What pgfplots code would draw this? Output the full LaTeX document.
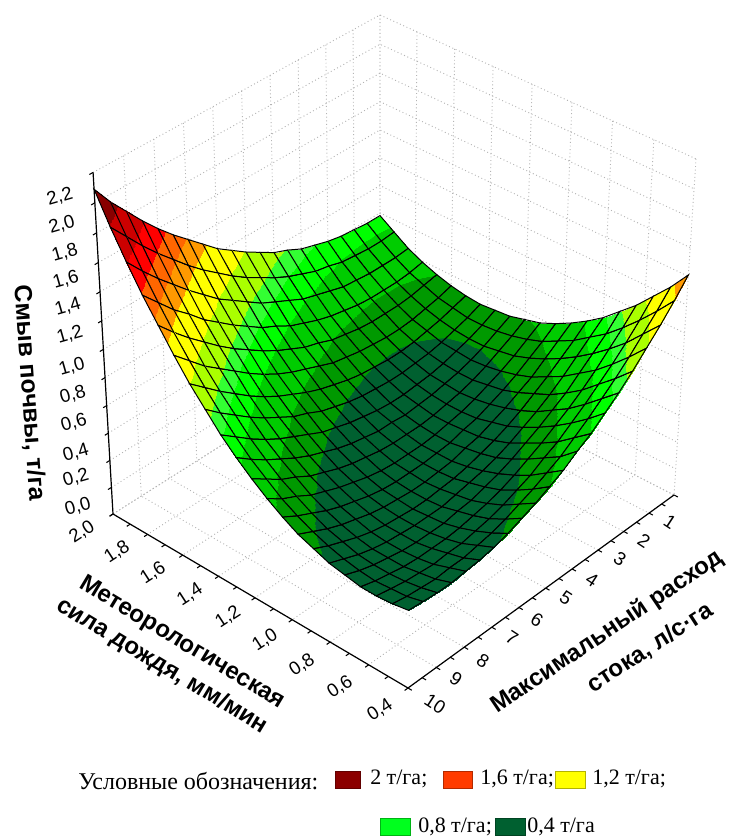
\documentclass[border=0pt]{standalone}
\usepackage{fontspec}
\setmainfont{Liberation Sans}
\newfontfamily\serifleg{Liberation Serif}
\usepackage{pgfplots}
\usepackage{pgfplotstable}
\pgfplotsset{compat=1.18}
% z values, one line per rainfall step (r = 2.0 ... 0.4), 21 values per line (q = 0 ... 10)
\pgfplotstableread[row sep=\\]{
z a\\
0.98 0\\0.98 0\\0.99 0\\1.00 0\\1.02 0\\1.05 0\\1.08 0\\1.13 0\\1.17 0\\1.23 0\\1.29 0\\1.36 0\\1.43 0\\1.52 0\\1.61 0\\1.70 0\\1.80 0\\1.91 0\\2.03 0\\2.15 0\\2.29 0\\
0.91 0\\0.90 0\\0.90 0\\0.91 0\\0.92 0\\0.95 0\\0.97 0\\1.01 0\\1.05 0\\1.10 0\\1.16 0\\1.22 0\\1.29 0\\1.37 0\\1.45 0\\1.54 0\\1.64 0\\1.74 0\\1.85 0\\1.97 0\\2.09 0\\
0.84 0\\0.83 0\\0.83 0\\0.83 0\\0.84 0\\0.85 0\\0.88 0\\0.91 0\\0.94 0\\0.99 0\\1.04 0\\1.09 0\\1.16 0\\1.23 0\\1.30 0\\1.39 0\\1.48 0\\1.58 0\\1.68 0\\1.79 0\\1.91 0\\
0.79 0\\0.77 0\\0.76 0\\0.76 0\\0.76 0\\0.77 0\\0.79 0\\0.81 0\\0.84 0\\0.88 0\\0.92 0\\0.98 0\\1.03 0\\1.10 0\\1.17 0\\1.25 0\\1.33 0\\1.43 0\\1.52 0\\1.63 0\\1.74 0\\
0.75 0\\0.73 0\\0.71 0\\0.70 0\\0.70 0\\0.70 0\\0.71 0\\0.73 0\\0.75 0\\0.79 0\\0.82 0\\0.87 0\\0.92 0\\0.98 0\\1.05 0\\1.12 0\\1.20 0\\1.29 0\\1.38 0\\1.48 0\\1.59 0\\
0.72 0\\0.69 0\\0.67 0\\0.65 0\\0.64 0\\0.64 0\\0.65 0\\0.66 0\\0.68 0\\0.70 0\\0.74 0\\0.78 0\\0.82 0\\0.87 0\\0.93 0\\1.00 0\\1.08 0\\1.16 0\\1.24 0\\1.34 0\\1.44 0\\
0.70 0\\0.67 0\\0.64 0\\0.62 0\\0.60 0\\0.59 0\\0.59 0\\0.60 0\\0.61 0\\0.63 0\\0.66 0\\0.69 0\\0.73 0\\0.78 0\\0.83 0\\0.89 0\\0.96 0\\1.04 0\\1.12 0\\1.21 0\\1.30 0\\
0.69 0\\0.65 0\\0.62 0\\0.59 0\\0.57 0\\0.56 0\\0.55 0\\0.55 0\\0.56 0\\0.57 0\\0.59 0\\0.62 0\\0.65 0\\0.70 0\\0.74 0\\0.80 0\\0.86 0\\0.93 0\\1.01 0\\1.09 0\\1.18 0\\
0.70 0\\0.65 0\\0.61 0\\0.58 0\\0.55 0\\0.53 0\\0.52 0\\0.51 0\\0.51 0\\0.52 0\\0.54 0\\0.56 0\\0.59 0\\0.62 0\\0.67 0\\0.72 0\\0.77 0\\0.83 0\\0.90 0\\0.98 0\\1.06 0\\
0.71 0\\0.66 0\\0.61 0\\0.57 0\\0.54 0\\0.52 0\\0.50 0\\0.49 0\\0.48 0\\0.49 0\\0.49 0\\0.51 0\\0.53 0\\0.56 0\\0.60 0\\0.64 0\\0.69 0\\0.75 0\\0.81 0\\0.88 0\\0.96 0\\
0.74 0\\0.68 0\\0.63 0\\0.58 0\\0.54 0\\0.51 0\\0.49 0\\0.47 0\\0.46 0\\0.46 0\\0.46 0\\0.47 0\\0.49 0\\0.51 0\\0.54 0\\0.58 0\\0.62 0\\0.68 0\\0.73 0\\0.80 0\\0.87 0\\
0.77 0\\0.71 0\\0.65 0\\0.60 0\\0.56 0\\0.52 0\\0.49 0\\0.47 0\\0.45 0\\0.44 0\\0.44 0\\0.44 0\\0.45 0\\0.47 0\\0.50 0\\0.53 0\\0.57 0\\0.61 0\\0.67 0\\0.72 0\\0.79 0\\
0.82 0\\0.75 0\\0.69 0\\0.63 0\\0.58 0\\0.54 0\\0.50 0\\0.48 0\\0.45 0\\0.44 0\\0.43 0\\0.43 0\\0.43 0\\0.44 0\\0.46 0\\0.49 0\\0.52 0\\0.56 0\\0.61 0\\0.66 0\\0.72 0\\
0.88 0\\0.81 0\\0.74 0\\0.67 0\\0.62 0\\0.57 0\\0.53 0\\0.49 0\\0.47 0\\0.44 0\\0.43 0\\0.42 0\\0.42 0\\0.43 0\\0.44 0\\0.46 0\\0.49 0\\0.52 0\\0.56 0\\0.61 0\\0.66 0\\
0.95 0\\0.87 0\\0.80 0\\0.73 0\\0.67 0\\0.61 0\\0.56 0\\0.52 0\\0.49 0\\0.46 0\\0.44 0\\0.43 0\\0.42 0\\0.42 0\\0.43 0\\0.44 0\\0.46 0\\0.49 0\\0.53 0\\0.57 0\\0.62 0\\
1.03 0\\0.95 0\\0.87 0\\0.79 0\\0.72 0\\0.66 0\\0.61 0\\0.56 0\\0.52 0\\0.49 0\\0.47 0\\0.45 0\\0.43 0\\0.43 0\\0.43 0\\0.44 0\\0.45 0\\0.47 0\\0.50 0\\0.54 0\\0.58 0\\
1.13 0\\1.03 0\\0.95 0\\0.87 0\\0.79 0\\0.73 0\\0.67 0\\0.62 0\\0.57 0\\0.53 0\\0.50 0\\0.47 0\\0.46 0\\0.44 0\\0.44 0\\0.44 0\\0.45 0\\0.47 0\\0.49 0\\0.52 0\\0.56 0\\
1.23 0\\1.13 0\\1.04 0\\0.95 0\\0.87 0\\0.80 0\\0.74 0\\0.68 0\\0.63 0\\0.58 0\\0.54 0\\0.51 0\\0.49 0\\0.47 0\\0.46 0\\0.46 0\\0.46 0\\0.47 0\\0.49 0\\0.51 0\\0.54 0\\
1.35 0\\1.24 0\\1.14 0\\1.05 0\\0.97 0\\0.89 0\\0.82 0\\0.75 0\\0.70 0\\0.64 0\\0.60 0\\0.56 0\\0.53 0\\0.51 0\\0.49 0\\0.49 0\\0.48 0\\0.49 0\\0.50 0\\0.52 0\\0.54 0\\
1.47 0\\1.36 0\\1.26 0\\1.16 0\\1.07 0\\0.99 0\\0.91 0\\0.84 0\\0.77 0\\0.72 0\\0.67 0\\0.63 0\\0.59 0\\0.56 0\\0.54 0\\0.52 0\\0.52 0\\0.51 0\\0.52 0\\0.53 0\\0.55 0\\
1.61 0\\1.49 0\\1.38 0\\1.28 0\\1.18 0\\1.09 0\\1.01 0\\0.93 0\\0.87 0\\0.80 0\\0.75 0\\0.70 0\\0.66 0\\0.62 0\\0.59 0\\0.57 0\\0.56 0\\0.55 0\\0.55 0\\0.56 0\\0.57 0\\
}\surfdata
\definecolor{gridc}{HTML}{B4B4B4}
\pgfplotsset{
 wall/.style={gridc,line width=0.7pt,dotted},
 axl/.style={black,line width=0.9pt},
 tck/.style={black,line width=0.8pt},
}
\newcommand{\pline}[2]{\addplot[#1] table[x expr={px(\thisrow{u},\thisrow{v},\thisrow{h})},y expr={py(\thisrow{u},\thisrow{v},\thisrow{h})},row sep=\\]{#2};}
\newcommand{\lab}[4]{\node[rotate=#4,inner sep=0pt,font=\fontsize{14}{15}\selectfont] at (axis cs:#1,#2){#3};}
\newcommand{\zlab}[3]{\node[rotate=16,inner sep=0pt,font=\fontsize{14}{15}\selectfont] at (axis cs:#1,#2){#3};}
\newcommand{\swatch}[4]{\draw[draw=#4!70!black,fill=#4,line width=0.5pt] (axis cs:#1,#2) rectangle (axis cs:#3,{#2+17});}
\definecolor{lg1}{HTML}{8B0000}\definecolor{lg2}{HTML}{FF3C00}\definecolor{lg3}{HTML}{FFFF00}\definecolor{lg4}{HTML}{00FF1E}\definecolor{lg5}{HTML}{006030}
\begin{document}
\begin{tikzpicture}
\path[use as bounding box] (0,0) rectangle (549.75pt,629.25pt);
\begin{axis}[at={(0,0)},anchor=south west,x=0.75pt,y=0.75pt,
 xmin=0,xmax=733,ymin=0,ymax=839,y dir=reverse,hide axis,clip=false,
 declare function={
  ww(\u,\v,\h)=1-0.06372*\u-0.06691*\v-0.065*\h;
  px(\u,\v,\h)=(380-274.2*\u+248.9*\v-24.7*\h)/ww(\u,\v,\h);
  py(\u,\v,\h)=(345+136.25*\u+116.88*\v-330.98*\h+7*\v*\h)/ww(\u,\v,\h);
 },
 colormap={bands}{
  rgb255(0)=(0,96,48) rgb255(600)=(0,96,48)
  rgb255(601)=(0,153,0) rgb255(750)=(0,153,0)
  rgb255(751)=(0,204,0) rgb255(930)=(0,204,0)
  rgb255(931)=(0,255,0) rgb255(1050)=(0,255,0)
  rgb255(1051)=(51,255,51) rgb255(1140)=(51,255,51)
  rgb255(1141)=(170,255,0) rgb255(1300)=(170,255,0)
  rgb255(1301)=(255,255,0) rgb255(1500)=(255,255,0)
  rgb255(1501)=(255,153,0) rgb255(1620)=(255,153,0)
  rgb255(1621)=(255,102,0) rgb255(1750)=(255,102,0)
  rgb255(1751)=(255,0,0) rgb255(1900)=(255,0,0)
  rgb255(1901)=(204,0,0) rgb255(2100)=(204,0,0)
  rgb255(2101)=(136,0,0) rgb255(2400)=(136,0,0)
 },
 point meta min=0,point meta max=2.4,
]
% walls and floor grid
\pgfplotsinvokeforeach{0,0.0833,0.1667,0.25,0.3333,0.4167,0.5,0.5833,0.6667,0.75,0.8333,0.9167,1}{
 \pline{wall}{u v h\\1 0 #1\\0 0 #1\\0 1 #1\\}}
\pgfplotsinvokeforeach{0,0.1,0.2,0.3,0.4,0.5,0.6,0.7,0.8,0.9,1}{
 \pline{wall}{u v h\\#1 0 1\\#1 0 0\\#1 1 0\\}}
\pgfplotsinvokeforeach{0,0.125,0.25,0.375,0.5,0.625,0.75,0.875,1}{
 \pline{wall}{u v h\\0 #1 1\\0 #1 0\\1 #1 0\\}}
% surface
\addplot[surf,shader=faceted interp,faceted color=black,line width=0.75pt,mesh/rows=21,mesh/cols=21,point meta=\thisrow{z}]
 table[x expr={px((\coordindex-21*floor((\coordindex+0.5)/21))/20,floor((\coordindex+0.5)/21)/20,\thisrow{z}/2.4)},
       y expr={py((\coordindex-21*floor((\coordindex+0.5)/21))/20,floor((\coordindex+0.5)/21)/20,\thisrow{z}/2.4)}]{\surfdata};
% axes
\pline{axl}{u v h\\1 0 1\\1 0 0\\1 1 0\\0 1 0\\}
\pgfplotsinvokeforeach{0,0.0833,0.1667,0.25,0.3333,0.4167,0.5,0.5833,0.6667,0.75,0.8333,0.9167,1}{
 \pline{tck}{u v h\\1 0 #1\\1.012 0 #1\\}}
\pgfplotsinvokeforeach{0,0.0625,0.125,0.1875,0.25,0.3125,0.375,0.4375,0.5,0.5625,0.625,0.6875,0.75,0.8125,0.875,0.9375,1}{
 \pline{tck}{u v h\\1 #1 0\\1.012 #1 0\\}}
\pgfplotsinvokeforeach{0,0.05,0.1,0.15,0.2,0.25,0.3,0.35,0.4,0.45,0.5,0.55,0.6,0.65,0.7,0.75,0.8,0.85,0.9,0.95,1}{
 \pline{tck}{u v h\\#1 1 0\\#1 1.012 0\\}}
% z tick labels
\zlab{60}{197}{2,2}\zlab{62}{225}{2,0}\zlab{65}{253}{1,8}\zlab{66}{280}{1,6}
\zlab{68}{307}{1,4}\zlab{70}{335}{1,2}\zlab{72}{367}{1,0}\zlab{73}{395}{0,8}
\zlab{74}{423}{0,6}\zlab{76}{453}{0,4}\zlab{76}{478}{0,2}\zlab{78}{507}{0,0}
% rainfall tick labels
\lab{82}{532}{2,0}{33}\lab{117}{552}{1,8}{33}\lab{153}{573}{1,6}{33}\lab{190}{595}{1,4}{33}
\lab{228}{617}{1,2}{33}\lab{265}{640}{1,0}{33}\lab{302}{665}{0,8}{33}\lab{340}{687}{0,6}{33}\lab{380}{710}{0,4}{33}
% discharge tick labels
\lab{435}{704}{10}{-33}\lab{456}{679}{9}{-33}\lab{483}{661}{8}{-33}\lab{512}{638}{7}{-33}\lab{537}{620}{6}{-33}
\lab{566}{598}{5}{-33}\lab{592}{580}{4}{-33}\lab{620}{559}{3}{-33}\lab{644}{541}{2}{-33}\lab{670}{522}{1}{-33}
% axis titles
\node[rotate=-86,inner sep=0pt,font=\fontsize{18.5}{20}\bfseries\selectfont] at (axis cs:29,393){Смыв почвы, т/га};
\node[rotate=-31,inner sep=0pt,font=\fontsize{18}{20}\bfseries\selectfont] at (axis cs:182,643){Метеорологическая};
\node[rotate=-31,inner sep=0pt,font=\fontsize{18}{20}\bfseries\selectfont] at (axis cs:162,666){сила дождя, мм/мин};
\node[rotate=34,inner sep=0pt,font=\fontsize{18}{20}\bfseries\selectfont] at (axis cs:607,632){Максимальный расход};
\node[rotate=33,inner sep=0pt,font=\fontsize{18}{20}\bfseries\selectfont] at (axis cs:650,648){стока, л/с·га};
% legend
\node[anchor=west,inner sep=0pt,font=\serifleg\fontsize{18}{20}\selectfont] at (axis cs:78,781){Условные обозначения:};
\swatch{335}{771}{360}{lg1}\node[anchor=west,inner sep=0pt,font=\serifleg\fontsize{16.5}{18}\selectfont] at (axis cs:370,779){2 т/га;};
\swatch{443}{771}{472}{lg2}\node[anchor=west,inner sep=0pt,font=\serifleg\fontsize{16.5}{18}\selectfont] at (axis cs:480,779){1,6 т/га;};
\swatch{555}{771}{585}{lg3}\node[anchor=west,inner sep=0pt,font=\serifleg\fontsize{16.5}{18}\selectfont] at (axis cs:592,779){1,2 т/га;};
\swatch{380}{818}{410}{lg4}\node[anchor=west,inner sep=0pt,font=\serifleg\fontsize{16.5}{18}\selectfont] at (axis cs:418,827){0,8 т/га;};
\swatch{495}{818}{525}{lg5}\node[anchor=west,inner sep=0pt,font=\serifleg\fontsize{16.5}{18}\selectfont] at (axis cs:527,827){0,4 т/га};
\end{axis}
\end{tikzpicture}
\end{document}
